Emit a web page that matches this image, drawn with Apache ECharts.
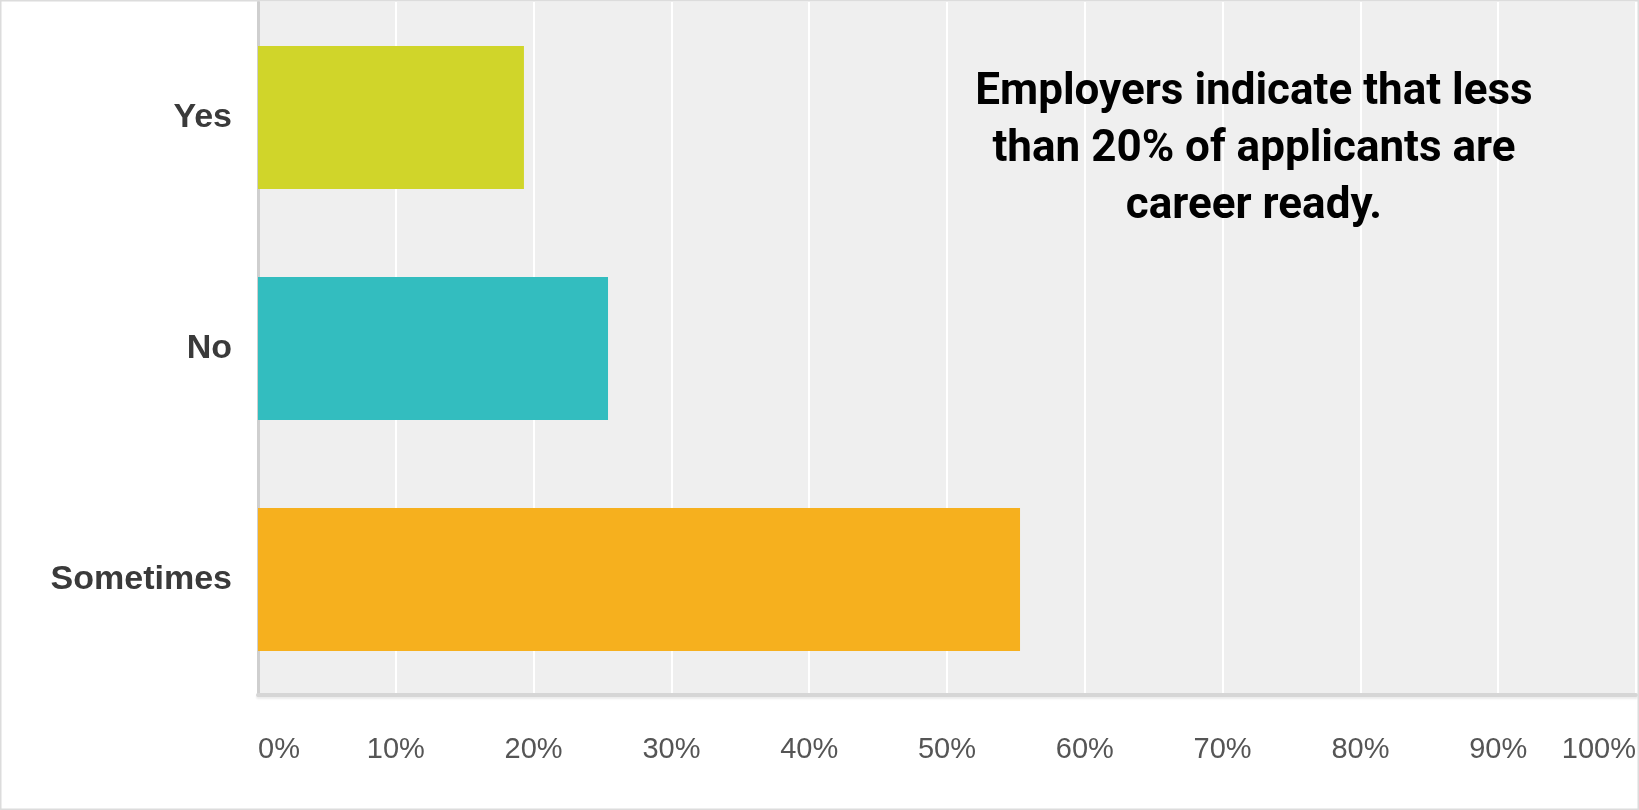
<!DOCTYPE html>
<html>
<head>
<meta charset="utf-8">
<script src="https://cdn.jsdelivr.net/npm/echarts@6/dist/echarts.min.js"></script>
<style>
html,body{margin:0;padding:0;background:#fff;}
#chart{width:1639px;height:810px;}
</style>
</head>
<body>
<div id="chart"></div>
<script>
const categories = ['Yes', 'No', 'Sometimes'];
const values = [19.3, 25.4, 55.3];
const barColors = ['#d0d52a', '#33bdbf', '#f6b01e'];
const tickValues = [0, 10, 20, 30, 40, 50, 60, 70, 80, 90, 100];
const annotationLines = ['Employers indicate that less', 'than 20% of applicants are', 'career ready.'];

const chart = echarts.init(document.getElementById('chart'), null, {renderer: 'canvas'});
chart.setOption({
  animation: false,
  backgroundColor: '#ffffff',
  grid: {left: 258, top: 2, width: 1382, height: 693, backgroundColor: '#efefef', show: true, borderWidth: 0},
  xAxis: {
    type: 'value',
    min: tickValues[0],
    max: tickValues[tickValues.length - 1],
    interval: 10,
    axisLine: {show: true, lineStyle: {color: '#d6d6d6', width: 4, shadowColor: 'rgba(0,0,0,0.08)', shadowOffsetY: 2, shadowBlur: 2}},
    axisTick: {show: false},
    splitLine: {show: true, lineStyle: {color: '#ffffff', width: 2}},
    axisLabel: {
      formatter: '{value}%',
      color: '#555555',
      fontFamily: 'Liberation Sans, Arial, sans-serif',
      fontSize: 29,
      margin: 40,
      showMinLabel: true,
      showMaxLabel: true,
      alignMinLabel: 'left',
      alignMaxLabel: 'right'
    }
  },
  yAxis: {
    type: 'category',
    data: categories,
    inverse: true,
    axisLine: {show: true, lineStyle: {color: '#cfcfcf', width: 3}},
    axisTick: {show: false},
    splitLine: {show: false},
    axisLabel: {
      color: '#3a3a3a',
      fontFamily: 'Liberation Sans, Arial, sans-serif',
      fontWeight: 'bold',
      fontSize: 34,
      margin: 26
    }
  },
  series: [{
    type: 'bar',
    data: values.map((v, i) => ({value: v, itemStyle: {color: barColors[i]}})),
    barWidth: 143,
    z: 3
  }],
  graphic: [
    {
      type: 'rect',
      silent: true,
      z: 100,
      shape: {x: 0, y: 0, width: 1639, height: 810},
      style: {fill: 'none', stroke: '#dcdcdc', lineWidth: 3}
    },
    {
      type: 'text',
      z: 50,
      x: 1254,
      y: 64,
      style: {
        text: annotationLines.join('\n'),
        fill: '#000000',
        font: 'bold 44px Roboto, sans-serif',
        align: 'center',
        verticalAlign: 'top',
        lineHeight: 57
      }
    }
  ]
});
</script>
</body>
</html>
